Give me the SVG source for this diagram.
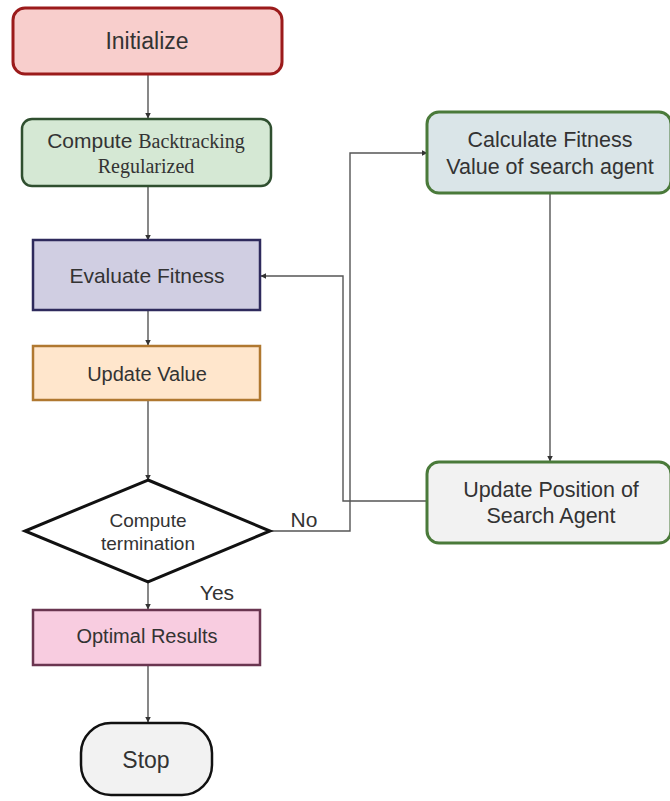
<svg xmlns="http://www.w3.org/2000/svg" width="670" height="801" viewBox="0 0 670 801">
<defs>
<marker id="arr" viewBox="0 0 10 10" refX="9" refY="5" markerWidth="4" markerHeight="4" orient="auto"><path d="M0,0 L10,5 L0,10 z" fill="#333"/></marker>
<style>
.t{font-family:"Liberation Sans",Arial,sans-serif;fill:#333;text-anchor:middle}
.s{font-family:"Liberation Serif","Times New Roman",serif}
.c{fill:none;stroke:#555;stroke-width:1.4;marker-end:url(#arr)}
</style>
</defs>
<rect width="670" height="801" fill="#fff"/>
<g id="connectors">
<path class="c" d="M148,74 V118"/>
<path class="c" d="M148,186 V240"/>
<path class="c" d="M148,310 V345"/>
<path class="c" d="M148,400 V480"/>
<path class="c" d="M148,582 V609"/>
<path class="c" d="M148,665 V722"/>
<path class="c" d="M270,531 H350 V153 H427"/>
<path class="c" d="M550,192 V461"/>
<path class="c" d="M427,501 H343 V276 H261"/>
</g>
<g id="initialize">
<rect x="13" y="8" width="269" height="66" rx="12" fill="#f8cecc" stroke="#9b1b1b" stroke-width="3"/>
<text class="t" x="147" y="49" font-size="23">Initialize</text>
</g>
<g id="compute">
<rect x="22" y="119" width="249" height="67" rx="10" fill="#d5e8d4" stroke="#2f4f2f" stroke-width="2.5"/>
<text class="t" x="146" y="148" font-size="21">Compute <tspan class="s" font-size="20">Backtracking</tspan></text>
<text class="t s" x="146" y="173" font-size="20">Regularized</text>
</g>
<g id="evaluate">
<rect x="33" y="240" width="227" height="70" fill="#d0cee2" stroke="#2e2a5c" stroke-width="2.5"/>
<text class="t" x="147" y="283" font-size="21">Evaluate Fitness</text>
</g>
<g id="update-value">
<rect x="33" y="346" width="227" height="54" fill="#ffe6cc" stroke="#b07830" stroke-width="2.5"/>
<text class="t" x="147" y="381" font-size="20">Update Value</text>
</g>
<g id="termination">
<polygon points="148,480 270,531 148,582 25,531" fill="#fff" stroke="#111" stroke-width="3"/>
<text class="t" x="148" y="527" font-size="19">Compute</text>
<text class="t" x="148" y="550" font-size="19">termination</text>
</g>
<g id="optimal">
<rect x="33" y="610" width="227" height="55" fill="#f8cce0" stroke="#6a3550" stroke-width="2.5"/>
<text class="t" x="147" y="643" font-size="20">Optimal Results</text>
</g>
<g id="stop">
<rect x="81" y="723" width="131" height="72" rx="30" fill="#f2f2f2" stroke="#111" stroke-width="2.5"/>
<text class="t" x="146" y="768" font-size="23">Stop</text>
</g>
<g id="calculate">
<rect x="427" y="112" width="244" height="81" rx="12" fill="#dae5e8" stroke="#4a7a3a" stroke-width="3"/>
<text class="t" x="550" y="147" font-size="21.5">Calculate Fitness</text>
<text class="t" x="550" y="174" font-size="21.5">Value of search agent</text>
</g>
<g id="update-position">
<rect x="427" y="462" width="244" height="81" rx="12" fill="#f2f2f2" stroke="#4a7a3a" stroke-width="3"/>
<text class="t" x="551" y="497" font-size="21.5">Update Position of</text>
<text class="t" x="551" y="523" font-size="21.5">Search Agent</text>
</g>
<g id="labels">
<text class="t" x="304" y="527" font-size="21">No</text>
<text class="t" x="217" y="600" font-size="21">Yes</text>
</g>
</svg>
